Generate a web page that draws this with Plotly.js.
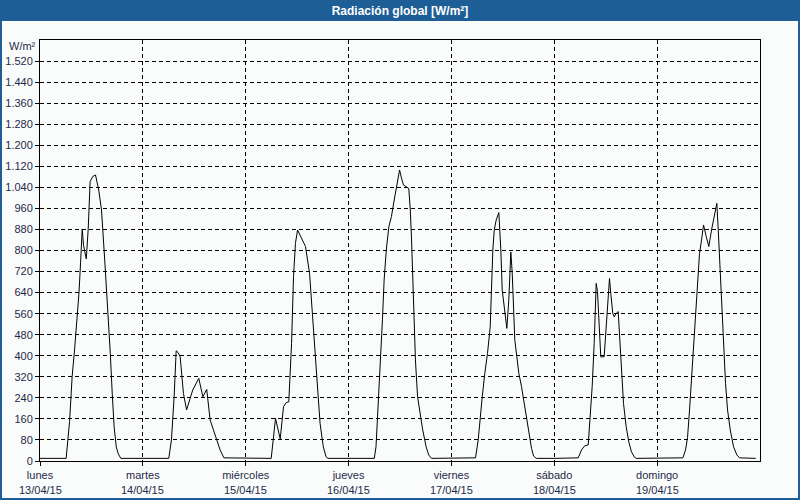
<!DOCTYPE html>
<html>
<head>
<meta charset="utf-8">
<script src="https://cdn.plot.ly/plotly-3.0.1.min.js"></script>
<style>
  html, body { margin: 0; padding: 0; background: #fafcfc; }
  #chart { width: 800px; height: 500px; }
</style>
</head>
<body>
<div id="chart"></div>
<script>
// ---- Data ----
const dayNames = ['lunes', 'martes', 'miércoles', 'jueves', 'viernes', 'sábado', 'domingo'];
const dayDates = ['13/04/15', '14/04/15', '15/04/15', '16/04/15', '17/04/15', '18/04/15', '19/04/15'];
const yTickVals = [0, 80, 160, 240, 320, 400, 480, 560, 640, 720, 800, 880, 960, 1040, 1120, 1200, 1280, 1360, 1440, 1520];

// hour of day / W/m² for each day
const lunesH = [0, 6.1, 6.9, 7.5, 8.1, 8.6, 9.1, 9.5, 9.85, 10.15, 10.8, 11.25, 11.7, 12.3, 12.95, 13.7, 14.35, 15.1, 15.9, 16.4, 16.85, 17.3, 17.8, 18.25, 18.85];
const lunesV = [10, 10, 150, 320, 430, 520, 640, 764, 882, 820, 768, 882, 1062, 1081, 1087, 1030, 954, 764, 562, 410, 258, 130, 53, 28, 10];

const martesH = [0, 6.05, 6.67, 7.3, 7.77, 8.24, 8.7, 9.47, 10.2, 10.87, 11.64, 13.05, 14.0, 14.9, 15.7, 16.47, 17.25, 18.03, 18.9];
const martesV = [10, 10, 80, 244, 419, 412, 397, 257, 194, 232, 270, 314, 244, 272, 156, 118, 80, 42, 12];

const miercolesH = [0, 5.95, 6.95, 8.05, 8.82, 9.45, 10.05, 10.7, 11.15, 11.6, 12.1, 13.0, 13.95, 14.9, 15.5, 16.1, 16.75, 17.35, 18.1, 18.75, 19.2];
const miercolesV = [10, 10, 162, 84, 206, 222, 225, 447, 700, 827, 878, 847, 815, 713, 574, 409, 244, 143, 54, 16, 10];

const juevesH = [0, 6.0, 6.4, 6.75, 7.05, 7.5, 7.9, 8.3, 8.8, 9.4, 10.0, 10.65, 11.25, 11.9, 12.35, 12.8, 14.05, 14.4, 14.7, 15.0, 15.3, 15.6, 16.1, 16.7, 17.3, 18.1, 18.7, 19.35];
const juevesV = [10, 10, 54, 160, 260, 400, 536, 688, 802, 891, 929, 992, 1043, 1106, 1075, 1049, 1036, 954, 840, 688, 536, 384, 244, 181, 118, 54, 23, 10];

const viernesH = [0, 5.62, 6.25, 6.72, 7.19, 7.79, 8.42, 9.05, 9.36, 9.66, 9.99, 10.45, 11.06, 11.53, 11.85, 12.32, 12.93, 13.39, 13.56, 13.86, 14.19, 14.49, 14.79, 15.26, 15.73, 16.36, 16.99, 17.45, 18.06, 18.69, 19.16, 19.79];
const viernesV = [10, 12, 80, 168, 244, 333, 409, 510, 688, 802, 878, 916, 944, 802, 650, 574, 504, 612, 688, 794, 713, 561, 460, 396, 333, 282, 219, 168, 105, 48, 19, 10];

const sabadoH = [0, 5.58, 6.35, 7.12, 7.91, 8.38, 8.84, 9.31, 9.61, 9.78, 10.08, 10.38, 10.85, 11.64, 11.95, 12.25, 12.58, 12.88, 13.18, 13.65, 13.98, 14.44, 14.91, 15.21, 15.68, 16.15, 16.78, 17.38, 18.01, 18.64, 19.11];
const sabadoV = [10, 12, 42, 58, 61, 156, 282, 447, 561, 675, 644, 536, 396, 396, 472, 561, 650, 694, 637, 561, 548, 561, 568, 472, 320, 219, 130, 73, 35, 16, 10];

const domingoH = [0, 6.0, 6.63, 7.09, 7.56, 8.03, 8.49, 8.96, 9.43, 9.89, 10.36, 10.83, 11.46, 12.06, 12.69, 13.32, 13.93, 14.26, 14.56, 15.03, 15.5, 15.96, 16.43, 17.06, 17.83, 18.6, 19.23, 23.0];
const domingoV = [10, 12, 42, 89, 194, 320, 447, 561, 675, 789, 840, 897, 853, 815, 878, 929, 979, 878, 777, 625, 447, 295, 194, 118, 54, 23, 12, 10];

// ---- Build series ----
const dayHours = [lunesH, martesH, miercolesH, juevesH, viernesH, sabadoH, domingoH];
const dayValues = [lunesV, martesV, miercolesV, juevesV, viernesV, sabadoV, domingoV];
const xs = [], ys = [];
dayHours.forEach((hrs, d) => {
  hrs.forEach((h, i) => { xs.push(d * 24 + h); ys.push(dayValues[d][i]); });
});

// ---- Layout geometry ----
const W = 800, H = 500;
const M = { l: 40, r: 40, t: 40, b: 39 };
const pw = W - M.l - M.r, ph = H - M.t - M.b;
const px = x => (x - M.l) / pw;          // pixel -> paper x
const py = y => (H - M.b - y) / ph;      // pixel -> paper y
const blue = '#1d5e96';
const txt = '#1e2a48';
const font = 'Liberation Sans, Arial, sans-serif';

const tickX = dayNames.map((_, i) => i * 24);

const shapes = [
  { type: 'rect', xref: 'paper', yref: 'paper', x0: px(0), x1: px(W), y0: py(21), y1: py(0), fillcolor: blue, line: { width: 0 }, layer: 'below' },
  { type: 'rect', xref: 'paper', yref: 'paper', x0: px(0), x1: px(2), y0: py(H), y1: py(0), fillcolor: blue, line: { width: 0 }, layer: 'below' },
  { type: 'rect', xref: 'paper', yref: 'paper', x0: px(W - 2), x1: px(W), y0: py(H), y1: py(0), fillcolor: blue, line: { width: 0 }, layer: 'below' },
  { type: 'rect', xref: 'paper', yref: 'paper', x0: px(0), x1: px(W), y0: py(H), y1: py(H - 2), fillcolor: blue, line: { width: 0 }, layer: 'below' }
];

const annotations = dayDates.map((d, i) => ({
  x: tickX[i], xref: 'x', y: 0, yref: 'paper', yanchor: 'top', xanchor: 'center',
  yshift: -21, text: d, showarrow: false, font: { family: font, size: 11, color: txt }
}));
annotations.push({
  x: px(38), xref: 'paper', y: py(46), yref: 'paper', xanchor: 'right', yanchor: 'middle',
  text: 'W/m²', showarrow: false, font: { family: font, size: 11, color: txt }
});

const axisCommon = {
  showline: true, mirror: true, linecolor: '#000', linewidth: 1,
  showgrid: true, gridcolor: '#000', gridwidth: 1, griddash: '4px,3px',
  zeroline: false, ticks: 'outside', ticklen: 4, tickcolor: '#000', tickwidth: 1,
  tickfont: { family: font, size: 11, color: txt }, fixedrange: true
};

const layout = {
  width: W, height: H, margin: M,
  paper_bgcolor: '#fafcfc', plot_bgcolor: '#fafcfc',
  separators: ',.',
  showlegend: false,
  title: {
    text: 'Radiación global [W/m²]', x: 0.5, xref: 'paper', xanchor: 'center',
    y: 1 - 10.5 / H, yref: 'container', yanchor: 'middle',
    font: { family: font, size: 12, color: '#ffffff', weight: 'bold' }
  },
  xaxis: Object.assign({}, axisCommon, {
    range: [0, 168], tickmode: 'array', tickvals: tickX, ticktext: dayNames
  }),
  yaxis: Object.assign({}, axisCommon, {
    range: [0, 1600], tickmode: 'array', tickvals: yTickVals, tickformat: ',d'
  }),
  shapes: shapes,
  annotations: annotations
};

Plotly.newPlot('chart', [{
  x: xs, y: ys, type: 'scatter', mode: 'lines',
  line: { color: '#000', width: 1 }, hoverinfo: 'skip'
}], layout, { staticPlot: true, displayModeBar: false });
</script>
</body>
</html>
